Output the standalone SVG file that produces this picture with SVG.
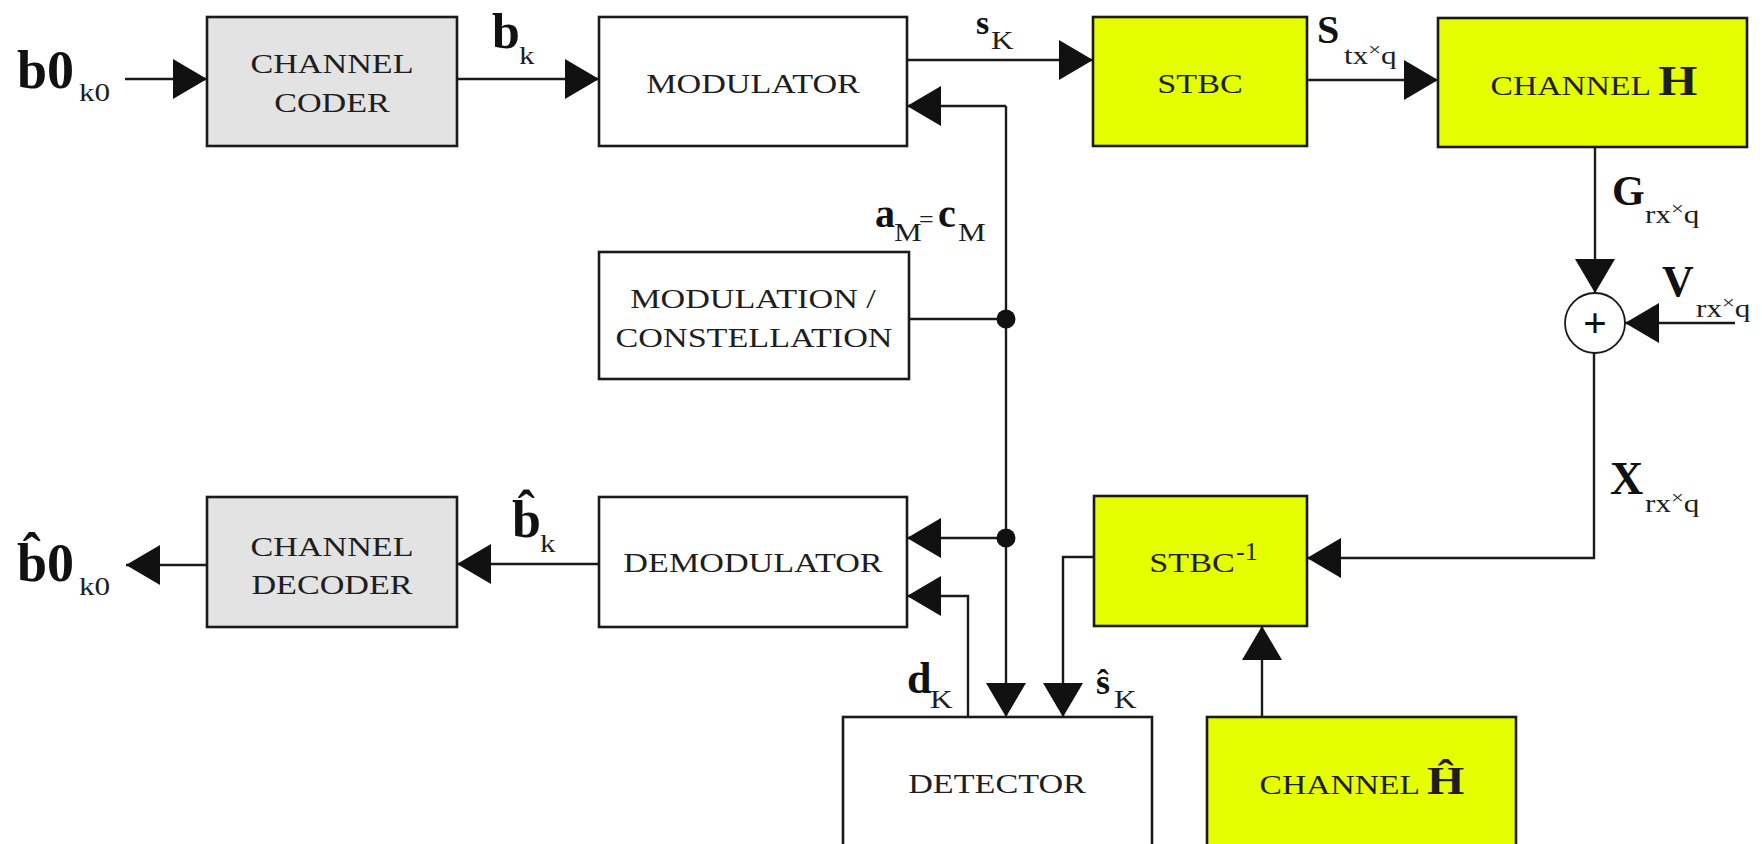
<svg xmlns="http://www.w3.org/2000/svg" width="1762" height="844" viewBox="0 0 1762 844">
  <style>
    .blk { stroke: #1a1a1a; stroke-width: 2.6; }
    .gray { fill: #e3e3e3; }
    .white { fill: #ffffff; }
    .yel { fill: #e6ff00; }
    .wire { fill: none; stroke: #1a1a1a; stroke-width: 2.4; }
    .arr { marker-end: url(#head); }
    .btxt { font-family: "Liberation Serif", "Times New Roman", serif; font-size: 28px; fill: #1e1e1e; text-anchor: middle; }
    .lbl { font-family: "Liberation Serif", "Times New Roman", serif; font-weight: bold; fill: #111; }
    .sub { font-family: "Liberation Serif", "Times New Roman", serif; font-size: 26px; fill: #1e1e1e; }
    .x { font-size: 19px; }
    .dot { fill: #111; }
  </style>
  <defs>
    <marker id="head" viewBox="0 0 34 40" markerWidth="34" markerHeight="40" markerUnits="userSpaceOnUse" refX="34" refY="20" orient="auto">
      <path d="M0,0 L34,20 L0,40 z" fill="#111"/>
    </marker>
  </defs>

  <rect width="1762" height="844" fill="#ffffff"/>

  <!-- connectors -->
  <g id="connectors">
    <path class="wire arr" d="M125,79 H207"/>
    <path class="wire arr" d="M457,79 H599"/>
    <path class="wire arr" d="M907,60 H1093"/>
    <path class="wire arr" d="M1307,80 H1438"/>
    <path class="wire arr" d="M1595,147 V293"/>
    <path class="wire arr" d="M1735,323 H1625"/>
    <path class="wire arr" d="M1594,353 V558 H1307"/>
    <path class="wire arr" d="M1262,717 V626"/>
    <path class="wire arr" d="M1094,557 H1063 V717"/>
    <path class="wire" d="M909,319 H1006"/>
    <path class="wire arr" d="M1006,106 V717"/>
    <path class="wire arr" d="M1006,106 H907"/>
    <path class="wire arr" d="M1006,538 H907"/>
    <path class="wire arr" d="M968,717 V596 H907"/>
    <path class="wire arr" d="M599,564 H457"/>
    <path class="wire arr" d="M207,565 H126"/>
    <circle class="dot" cx="1006" cy="319" r="9.5"/>
    <circle class="dot" cx="1006" cy="538" r="9.5"/>
  </g>

  <!-- transmitter chain -->
  <g id="channel-coder">
    <rect class="blk gray" x="207" y="17" width="250" height="129"/>
    <text class="btxt" transform="translate(332 73) scale(1.22 1)">CHANNEL</text>
    <text class="btxt" transform="translate(332 112) scale(1.22 1)">CODER</text>
  </g>
  <g id="modulator">
    <rect class="blk white" x="599" y="17" width="308" height="129"/>
    <text class="btxt" transform="translate(753 93) scale(1.22 1)">MODULATOR</text>
  </g>
  <g id="stbc">
    <rect class="blk yel" x="1093" y="17" width="214" height="129"/>
    <text class="btxt" transform="translate(1200 93) scale(1.22 1)">STBC</text>
  </g>
  <g id="channel-h">
    <rect class="blk yel" x="1438" y="18" width="309" height="129"/>
    <text class="btxt" transform="translate(1594 95) scale(1.2 1)">CHANNEL <tspan font-weight="bold" font-size="42">H</tspan></text>
  </g>
  <g id="adder">
    <circle cx="1595" cy="323" r="30" fill="#ffffff" stroke="#1a1a1a" stroke-width="1.8"/>
    <text class="lbl" x="1595" y="337" font-size="42" text-anchor="middle">+</text>
  </g>
  <g id="constellation">
    <rect class="blk white" x="599" y="252" width="310" height="127"/>
    <text class="btxt" transform="translate(753 308) scale(1.22 1)">MODULATION /</text>
    <text class="btxt" transform="translate(754 347) scale(1.22 1)">CONSTELLATION</text>
  </g>

  <!-- receiver chain -->
  <g id="channel-decoder">
    <rect class="blk gray" x="207" y="497" width="250" height="130"/>
    <text class="btxt" transform="translate(332 556) scale(1.22 1)">CHANNEL</text>
    <text class="btxt" transform="translate(332 594) scale(1.22 1)">DECODER</text>
  </g>
  <g id="demodulator">
    <rect class="blk white" x="599" y="497" width="308" height="130"/>
    <text class="btxt" transform="translate(753 572) scale(1.22 1)">DEMODULATOR</text>
  </g>
  <g id="stbc-inverse">
    <rect class="blk yel" x="1094" y="496" width="213" height="130"/>
    <text class="btxt" transform="translate(1192 572) scale(1.22 1)">STBC</text>
    <text class="sub" x="1236" y="560" font-size="14">-1</text>
  </g>
  <g id="detector">
    <rect class="blk white" x="843" y="717" width="309" height="140"/>
    <text class="btxt" transform="translate(997 793) scale(1.22 1)">DETECTOR</text>
  </g>
  <g id="channel-estimate">
    <rect class="blk yel" x="1207" y="717" width="309" height="140"/>
    <text class="btxt" transform="translate(1362 794) scale(1.2 1)">CHANNEL <tspan font-weight="bold" font-size="40">Ĥ</tspan></text>
  </g>

  <!-- signal labels -->
  <g id="labels">
    <text class="lbl" x="17" y="88" font-size="54">b0</text>
    <text class="sub" transform="translate(79 101) scale(1.2 1)">k0</text>

    <text class="lbl" x="492" y="48" font-size="50">b</text>
    <text class="sub" transform="translate(519 64) scale(1.2 1)">k</text>

    <text class="lbl" x="976" y="34" font-size="34">s</text>
    <text class="sub" transform="translate(991 49) scale(1.2 1)">K</text>

    <text class="lbl" x="1317" y="43" font-size="40">S</text>
    <text class="sub" transform="translate(1344 64) scale(1.2 1)">tx<tspan class="x" dy="-8">×</tspan><tspan dy="8">q</tspan></text>

    <text class="lbl" x="1612" y="205" font-size="42">G</text>
    <text class="sub" transform="translate(1645 223) scale(1.2 1)">rx<tspan class="x" dy="-8">×</tspan><tspan dy="8">q</tspan></text>

    <text class="lbl" x="1662" y="296" font-size="44">V</text>
    <text class="sub" transform="translate(1696 317) scale(1.2 1)">rx<tspan class="x" dy="-8">×</tspan><tspan dy="8">q</tspan></text>

    <text class="lbl" x="1610" y="494" font-size="46">X</text>
    <text class="sub" transform="translate(1645 512) scale(1.2 1)">rx<tspan class="x" dy="-8">×</tspan><tspan dy="8">q</tspan></text>

    <text class="lbl" x="875" y="227" font-size="40">a</text>
    <text class="sub" transform="translate(894 241) scale(1.2 1)">M</text>
    <text class="sub" x="919" y="228" font-size="36">=</text>
    <text class="lbl" x="938" y="227" font-size="40">c</text>
    <text class="sub" transform="translate(958 241) scale(1.2 1)">M</text>

    <text class="lbl" x="907" y="693" font-size="44">d</text>
    <text class="sub" transform="translate(930 708) scale(1.2 1)">K</text>

    <text class="lbl" x="1096" y="694" font-size="36">ŝ</text>
    <text class="sub" transform="translate(1114 708) scale(1.2 1)">K</text>

    <text class="lbl" x="512" y="537" font-size="52">b̂</text>
    <text class="sub" transform="translate(540 552) scale(1.2 1)">k</text>

    <text class="lbl" x="17" y="581" font-size="54">b̂0</text>
    <text class="sub" transform="translate(79 595) scale(1.2 1)">k0</text>
  </g>
</svg>
